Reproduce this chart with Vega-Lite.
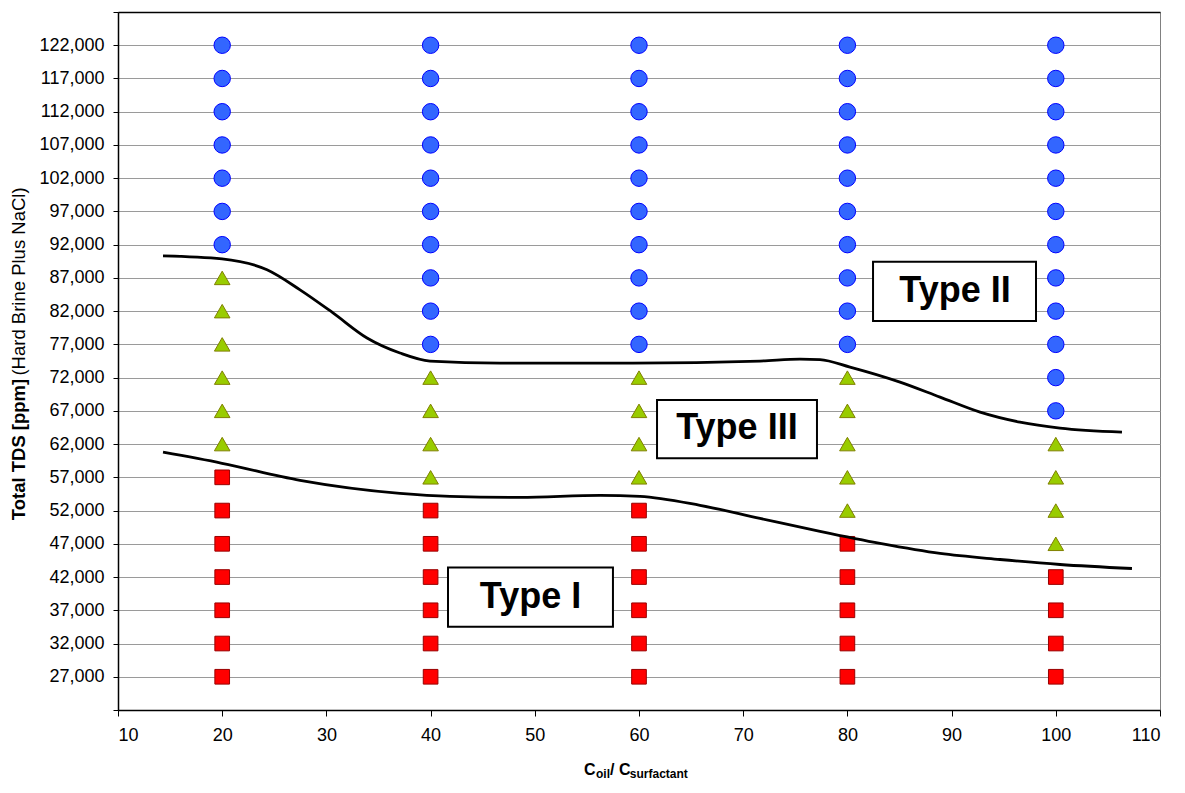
{
  "$schema": "https://vega.github.io/schema/vega-lite/v6.json",
  "width": 1042,
  "height": 698,
  "autosize": "none",
  "padding": {"left": 118, "top": 12, "right": 25, "bottom": 83},
  "background": "white",
  "config": {
    "view": {"stroke": "#808080", "strokeWidth": 1},
    "axis": {"labelFont": "Liberation Sans", "titleFont": "Liberation Sans", "labelColor": "black", "titleColor": "black", "domainColor": "black", "tickColor": "black"},
    "text": {"font": "Liberation Sans"}
  },
  "datasets": {
    "points": [
      {"ratio": 20, "tds": 27000, "type": "Type I"}, {"ratio": 20, "tds": 32000, "type": "Type I"}, {"ratio": 20, "tds": 37000, "type": "Type I"}, {"ratio": 20, "tds": 42000, "type": "Type I"}, {"ratio": 20, "tds": 47000, "type": "Type I"}, {"ratio": 20, "tds": 52000, "type": "Type I"}, {"ratio": 20, "tds": 57000, "type": "Type I"},
      {"ratio": 20, "tds": 62000, "type": "Type III"}, {"ratio": 20, "tds": 67000, "type": "Type III"}, {"ratio": 20, "tds": 72000, "type": "Type III"}, {"ratio": 20, "tds": 77000, "type": "Type III"}, {"ratio": 20, "tds": 82000, "type": "Type III"}, {"ratio": 20, "tds": 87000, "type": "Type III"},
      {"ratio": 20, "tds": 92000, "type": "Type II"}, {"ratio": 20, "tds": 97000, "type": "Type II"}, {"ratio": 20, "tds": 102000, "type": "Type II"}, {"ratio": 20, "tds": 107000, "type": "Type II"}, {"ratio": 20, "tds": 112000, "type": "Type II"}, {"ratio": 20, "tds": 117000, "type": "Type II"}, {"ratio": 20, "tds": 122000, "type": "Type II"},

      {"ratio": 40, "tds": 27000, "type": "Type I"}, {"ratio": 40, "tds": 32000, "type": "Type I"}, {"ratio": 40, "tds": 37000, "type": "Type I"}, {"ratio": 40, "tds": 42000, "type": "Type I"}, {"ratio": 40, "tds": 47000, "type": "Type I"}, {"ratio": 40, "tds": 52000, "type": "Type I"},
      {"ratio": 40, "tds": 57000, "type": "Type III"}, {"ratio": 40, "tds": 62000, "type": "Type III"}, {"ratio": 40, "tds": 67000, "type": "Type III"}, {"ratio": 40, "tds": 72000, "type": "Type III"},
      {"ratio": 40, "tds": 77000, "type": "Type II"}, {"ratio": 40, "tds": 82000, "type": "Type II"}, {"ratio": 40, "tds": 87000, "type": "Type II"}, {"ratio": 40, "tds": 92000, "type": "Type II"}, {"ratio": 40, "tds": 97000, "type": "Type II"}, {"ratio": 40, "tds": 102000, "type": "Type II"}, {"ratio": 40, "tds": 107000, "type": "Type II"}, {"ratio": 40, "tds": 112000, "type": "Type II"}, {"ratio": 40, "tds": 117000, "type": "Type II"}, {"ratio": 40, "tds": 122000, "type": "Type II"},

      {"ratio": 60, "tds": 27000, "type": "Type I"}, {"ratio": 60, "tds": 32000, "type": "Type I"}, {"ratio": 60, "tds": 37000, "type": "Type I"}, {"ratio": 60, "tds": 42000, "type": "Type I"}, {"ratio": 60, "tds": 47000, "type": "Type I"}, {"ratio": 60, "tds": 52000, "type": "Type I"},
      {"ratio": 60, "tds": 57000, "type": "Type III"}, {"ratio": 60, "tds": 62000, "type": "Type III"}, {"ratio": 60, "tds": 67000, "type": "Type III"}, {"ratio": 60, "tds": 72000, "type": "Type III"},
      {"ratio": 60, "tds": 77000, "type": "Type II"}, {"ratio": 60, "tds": 82000, "type": "Type II"}, {"ratio": 60, "tds": 87000, "type": "Type II"}, {"ratio": 60, "tds": 92000, "type": "Type II"}, {"ratio": 60, "tds": 97000, "type": "Type II"}, {"ratio": 60, "tds": 102000, "type": "Type II"}, {"ratio": 60, "tds": 107000, "type": "Type II"}, {"ratio": 60, "tds": 112000, "type": "Type II"}, {"ratio": 60, "tds": 117000, "type": "Type II"}, {"ratio": 60, "tds": 122000, "type": "Type II"},

      {"ratio": 80, "tds": 27000, "type": "Type I"}, {"ratio": 80, "tds": 32000, "type": "Type I"}, {"ratio": 80, "tds": 37000, "type": "Type I"}, {"ratio": 80, "tds": 42000, "type": "Type I"}, {"ratio": 80, "tds": 47000, "type": "Type I"},
      {"ratio": 80, "tds": 52000, "type": "Type III"}, {"ratio": 80, "tds": 57000, "type": "Type III"}, {"ratio": 80, "tds": 62000, "type": "Type III"}, {"ratio": 80, "tds": 67000, "type": "Type III"}, {"ratio": 80, "tds": 72000, "type": "Type III"},
      {"ratio": 80, "tds": 77000, "type": "Type II"}, {"ratio": 80, "tds": 82000, "type": "Type II"}, {"ratio": 80, "tds": 87000, "type": "Type II"}, {"ratio": 80, "tds": 92000, "type": "Type II"}, {"ratio": 80, "tds": 97000, "type": "Type II"}, {"ratio": 80, "tds": 102000, "type": "Type II"}, {"ratio": 80, "tds": 107000, "type": "Type II"}, {"ratio": 80, "tds": 112000, "type": "Type II"}, {"ratio": 80, "tds": 117000, "type": "Type II"}, {"ratio": 80, "tds": 122000, "type": "Type II"},

      {"ratio": 100, "tds": 27000, "type": "Type I"}, {"ratio": 100, "tds": 32000, "type": "Type I"}, {"ratio": 100, "tds": 37000, "type": "Type I"}, {"ratio": 100, "tds": 42000, "type": "Type I"},
      {"ratio": 100, "tds": 47000, "type": "Type III"}, {"ratio": 100, "tds": 52000, "type": "Type III"}, {"ratio": 100, "tds": 57000, "type": "Type III"}, {"ratio": 100, "tds": 62000, "type": "Type III"},
      {"ratio": 100, "tds": 67000, "type": "Type II"}, {"ratio": 100, "tds": 72000, "type": "Type II"}, {"ratio": 100, "tds": 77000, "type": "Type II"}, {"ratio": 100, "tds": 82000, "type": "Type II"}, {"ratio": 100, "tds": 87000, "type": "Type II"}, {"ratio": 100, "tds": 92000, "type": "Type II"}, {"ratio": 100, "tds": 97000, "type": "Type II"}, {"ratio": 100, "tds": 102000, "type": "Type II"}, {"ratio": 100, "tds": 107000, "type": "Type II"}, {"ratio": 100, "tds": 112000, "type": "Type II"}, {"ratio": 100, "tds": 117000, "type": "Type II"}, {"ratio": 100, "tds": 122000, "type": "Type II"}
    ],
    "curves": [
      {"boundary": "upper", "ratio": 14.32, "tds": 90328}, {"boundary": "upper", "ratio": 19.98, "tds": 89875}, {"boundary": "upper", "ratio": 24.3, "tds": 88217}, {"boundary": "upper", "ratio": 27.47, "tds": 85201}, {"boundary": "upper", "ratio": 30.63, "tds": 81733}, {"boundary": "upper", "ratio": 33.9, "tds": 77964}, {"boundary": "upper", "ratio": 37.06, "tds": 75702}, {"boundary": "upper", "ratio": 39.94, "tds": 74496}, {"boundary": "upper", "ratio": 46.66, "tds": 74194}, {"boundary": "upper", "ratio": 59.42, "tds": 74194}, {"boundary": "upper", "ratio": 71.61, "tds": 74496}, {"boundary": "upper", "ratio": 75.45, "tds": 74797}, {"boundary": "upper", "ratio": 77.37, "tds": 74722}, {"boundary": "upper", "ratio": 80.25, "tds": 73591}, {"boundary": "upper", "ratio": 85.05, "tds": 71329}, {"boundary": "upper", "ratio": 88.89, "tds": 69068}, {"boundary": "upper", "ratio": 92.73, "tds": 66806}, {"boundary": "upper", "ratio": 96.56, "tds": 65298}, {"boundary": "upper", "ratio": 100.4, "tds": 64393}, {"boundary": "upper", "ratio": 106.35, "tds": 63790},
      {"boundary": "lower", "ratio": 14.32, "tds": 60775}, {"boundary": "lower", "ratio": 19.98, "tds": 59116}, {"boundary": "lower", "ratio": 27.47, "tds": 56553}, {"boundary": "lower", "ratio": 37.06, "tds": 54593}, {"boundary": "lower", "ratio": 41.86, "tds": 54140}, {"boundary": "lower", "ratio": 48.58, "tds": 53990}, {"boundary": "lower", "ratio": 56.26, "tds": 54291}, {"boundary": "lower", "ratio": 60.1, "tds": 54140}, {"boundary": "lower", "ratio": 65.85, "tds": 52783}, {"boundary": "lower", "ratio": 71.61, "tds": 50823}, {"boundary": "lower", "ratio": 77.37, "tds": 48863}, {"boundary": "lower", "ratio": 83.13, "tds": 47054}, {"boundary": "lower", "ratio": 88.89, "tds": 45546}, {"boundary": "lower", "ratio": 94.64, "tds": 44641}, {"boundary": "lower", "ratio": 100.4, "tds": 43887}, {"boundary": "lower", "ratio": 107.31, "tds": 43284}
    ],
    "regions": [
      {"label": "Type II", "x1": 82.46, "x2": 98.1, "y1": 89423, "y2": 80527, "tx": 90.33, "ty": 85050},
      {"label": "Type III", "x1": 61.73, "x2": 77.08, "y1": 68615, "y2": 59870, "tx": 69.4, "ty": 64394},
      {"label": "Type I", "x1": 41.67, "x2": 57.5, "y1": 43435, "y2": 34539, "tx": 49.59, "ty": 39060}
    ],
    "xtitle": [
      {"piece": "C", "ratio": 54.72, "tds": 12224, "role": "main"},
      {"piece": "oil", "ratio": 55.87, "tds": 11771, "role": "sub"},
      {"piece": "/ C", "ratio": 57.22, "tds": 12224, "role": "main"},
      {"piece": "surfactant", "ratio": 59.12, "tds": 11771, "role": "sub"}
    ]
  },
  "resolve": {"axis": {"x": "independent", "y": "independent"}},
  "layer": [
    {
      "data": {"name": "points"},
      "mark": {"type": "point", "filled": true, "opacity": 1, "strokeWidth": 1},
      "encoding": {
        "x": {
          "field": "ratio", "type": "quantitative",
          "scale": {"domain": [10, 110], "nice": false, "zero": false},
          "axis": {"values": [10, 20, 30, 40, 50, 60, 70, 80, 90, 100, 110], "grid": false, "title": null, "labelFontSize": 18, "tickSize": 6, "labelPadding": 10, "domainWidth": 1.5, "tickWidth": 1}
        },
        "y": {
          "field": "tds", "type": "quantitative",
          "scale": {"domain": [22000, 127000], "nice": false, "zero": false},
          "axis": {
            "values": [22000, 27000, 32000, 37000, 42000, 47000, 52000, 57000, 62000, 67000, 72000, 77000, 82000, 87000, 92000, 97000, 102000, 107000, 112000, 117000, 122000, 127000],
            "labelExpr": "datum.value == 22000 || datum.value == 127000 ? '' : format(datum.value, ',')",
            "grid": true, "gridColor": "#9a9a9a", "gridWidth": 1,
            "labelFontSize": 18, "tickSize": 5, "labelPadding": 9, "domainWidth": 1.5,
            "title": "Total TDS [ppm]", "titleFontSize": 18.5, "titleFontWeight": "bold",
            "titleX": -100, "titleY": 437, "titleAngle": -90, "titleAlign": "center", "titleBaseline": "middle"
          }
        },
        "shape": {"field": "type", "type": "nominal", "scale": {"domain": ["Type I", "Type III", "Type II"], "range": ["square", "triangle-up", "circle"]}, "legend": null},
        "fill": {"field": "type", "type": "nominal", "scale": {"domain": ["Type I", "Type III", "Type II"], "range": ["#ff0000", "#99cc00", "#3366ff"]}, "legend": null},
        "stroke": {"field": "type", "type": "nominal", "scale": {"domain": ["Type I", "Type III", "Type II"], "range": ["#990000", "#808000", "#0000ff"]}, "legend": null},
        "size": {"field": "type", "type": "nominal", "scale": {"domain": ["Type I", "Type III", "Type II"], "range": [215, 270, 185]}, "legend": null}
      }
    },
    {
      "data": {"name": "curves"},
      "mark": {"type": "line", "interpolate": "monotone", "color": "black", "strokeWidth": 2.8},
      "encoding": {
        "x": {"field": "ratio", "type": "quantitative", "axis": {"orient": "top", "labels": false, "ticks": false, "grid": false, "title": null, "domainColor": "black", "domainWidth": 1.5}},
        "y": {"field": "tds", "type": "quantitative", "axis": {"orient": "left", "labels": false, "ticks": false, "grid": false, "domain": false, "title": "(Hard Brine Plus NaCl)", "titleFontSize": 18.5, "titleFontWeight": "normal", "titleX": -100, "titleY": 269, "titleAngle": -90, "titleAlign": "center", "titleBaseline": "middle"}},
        "detail": {"field": "boundary"}
      }
    },
    {
      "data": {"name": "regions"},
      "mark": {"type": "rect", "fill": "white", "stroke": "black", "strokeWidth": 2},
      "encoding": {
        "x": {"field": "x1", "type": "quantitative", "axis": null},
        "x2": {"field": "x2"},
        "y": {"field": "y1", "type": "quantitative", "axis": null},
        "y2": {"field": "y2"}
      }
    },
    {
      "data": {"name": "regions"},
      "mark": {"type": "text", "fontSize": 36, "fontWeight": "bold", "align": "center", "baseline": "middle", "color": "black"},
      "encoding": {
        "x": {"field": "tx", "type": "quantitative", "axis": null},
        "y": {"field": "ty", "type": "quantitative", "axis": null},
        "text": {"field": "label"}
      }
    },
    {
      "data": {"name": "xtitle"},
      "transform": [{"filter": "datum.role == 'main'"}],
      "mark": {"type": "text", "fontWeight": "bold", "fontSize": 16, "align": "left", "baseline": "alphabetic", "color": "black"},
      "encoding": {
        "x": {"field": "ratio", "type": "quantitative", "axis": null},
        "y": {"field": "tds", "type": "quantitative", "axis": null},
        "text": {"field": "piece"}
      }
    },
    {
      "data": {"name": "xtitle"},
      "transform": [{"filter": "datum.role == 'sub'"}],
      "mark": {"type": "text", "fontWeight": "bold", "fontSize": 12, "align": "left", "baseline": "alphabetic", "color": "black"},
      "encoding": {
        "x": {"field": "ratio", "type": "quantitative", "axis": null},
        "y": {"field": "tds", "type": "quantitative", "axis": null},
        "text": {"field": "piece"}
      }
    }
  ]
}
